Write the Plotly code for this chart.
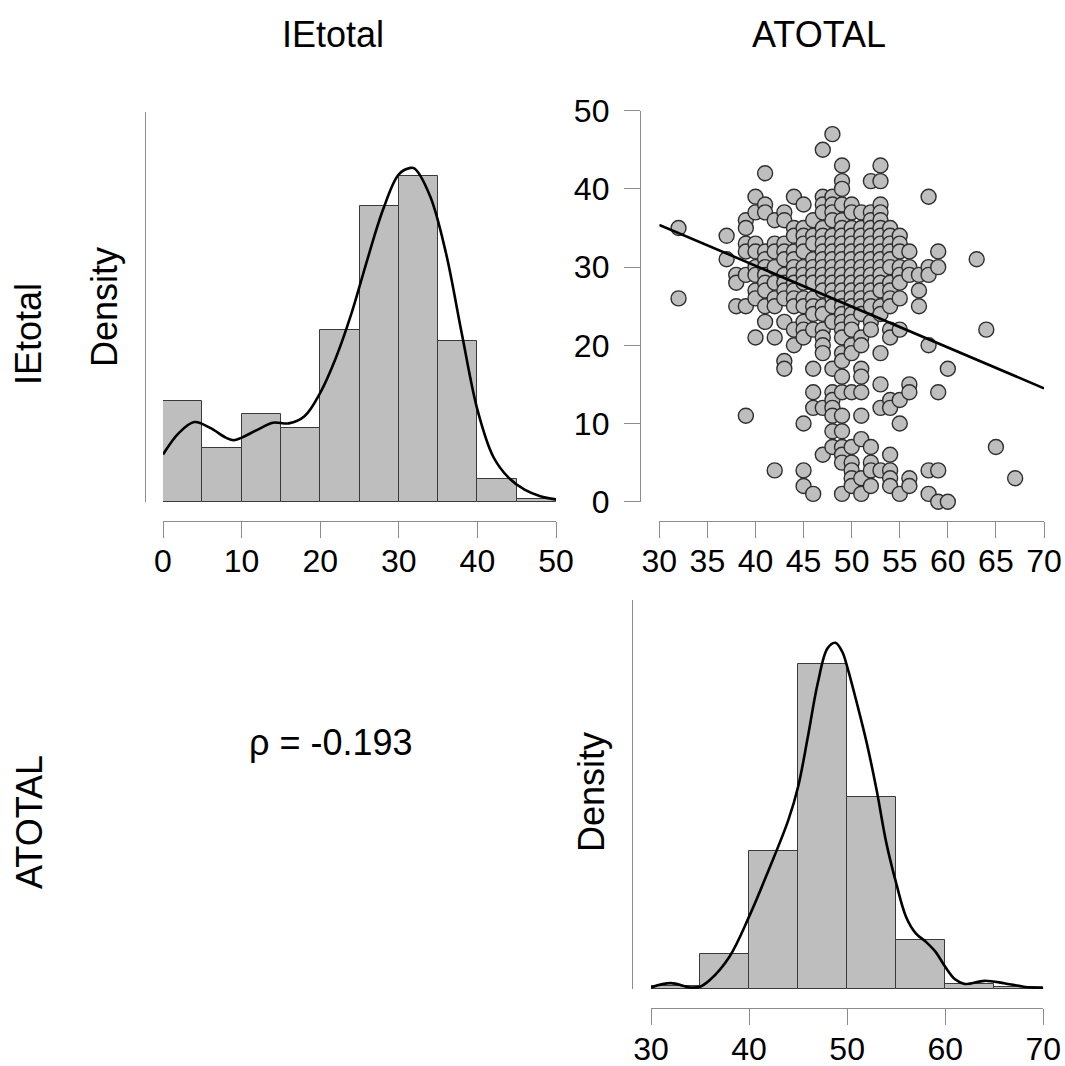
import numpy as np
import plotly.graph_objects as go

W, H = 1065, 1066

# ---------------- data ----------------
# IEtotal histogram (density per 5-point bin) and kernel density curve
ie_bin_edges = [0, 5, 10, 15, 20, 25, 30, 35, 40, 45, 50]
ie_density = [0.0155, 0.0083, 0.0135, 0.0114, 0.0264, 0.0455, 0.0501, 0.0248, 0.0036, 0.0005]
ie_kde_x = [0, 2, 4, 6, 8, 9, 10, 12, 14, 16, 18, 20, 22, 24, 26, 28, 30, 31.5, 32, 34, 36, 38, 40, 42, 44, 46, 48, 50]
ie_kde_y = [0.0073, 0.0106, 0.0123, 0.0114, 0.0099, 0.0095, 0.0099, 0.0111, 0.0122, 0.0121, 0.0132,
            0.0168, 0.0222, 0.0291, 0.0373, 0.0450, 0.0504, 0.0514, 0.0513, 0.0470, 0.0383, 0.0260,
            0.0142, 0.0070, 0.0037, 0.0019, 0.0009, 0.0004]

# ATOTAL histogram and kernel density curve
at_bin_edges = [30, 35, 40, 45, 50, 55, 60, 65, 70]
at_density = [0.0009, 0.0090, 0.0355, 0.0835, 0.0494, 0.0125, 0.0014, 0.0005]
at_kde_x = [30, 32, 34, 35, 36, 38, 40, 42, 44, 45, 46, 47, 48, 48.8, 49.5, 50, 51, 52, 53, 54, 55,
            56, 57, 58, 59, 60, 61, 62, 64, 66, 68, 70]
at_kde_y = [0.0004, 0.0015, 0.0004, 0.0006, 0.0023, 0.0083, 0.0186, 0.0306, 0.0434, 0.0520, 0.0649,
            0.0786, 0.0876, 0.0890, 0.0867, 0.0829, 0.0734, 0.0632, 0.0512, 0.0375, 0.0272, 0.0186,
            0.0143, 0.0122, 0.0096, 0.0057, 0.0025, 0.0013, 0.0021, 0.0015, 0.0006, 0.0002]

# Scatter: ATOTAL column values and the IEtotal values observed in each column
scatter_atotal_cols = [32, 37, 38, 39, 40, 41, 42, 43, 44, 45, 46, 47, 48, 49, 50, 51, 52, 53, 54, 55,
                       56, 57, 58, 59, 60, 63, 64, 65, 67]
scatter_ietotal_by_col = [
    [35, 26],
    [34, 31],
    [29, 28, 25],
    [36, 35, 33, 32, 29, 25, 11],
    [39, 37, 33, 32, 30, 29, 27, 26, 21],
    [42, 38, 37, 32, 31, 30, 29, 28, 27, 25, 23],
    [36, 33, 32, 30, 28, 26, 25, 21, 4],
    [37, 36, 33, 32, 31, 29, 28, 27, 26, 23, 18, 17],
    [39, 35, 34, 32, 31, 30, 29, 28, 27, 26, 25, 22, 20],
    [38, 35, 34, 33, 32, 30, 29, 28, 26, 25, 23, 22, 21, 10, 4, 2],
    [36, 34, 33, 31, 30, 29, 28, 26, 25, 24, 22, 17, 14, 12, 1],
    [45, 39, 38, 37, 35, 34, 33, 32, 31, 30, 29, 28, 27, 25, 24, 22, 21, 20, 19, 12, 6],
    [47, 39, 38, 37, 36, 34, 33, 32, 31, 30, 29, 28, 27, 26, 25, 23, 17, 14, 13, 12, 11, 9, 7],
    [43, 41, 40, 38, 36, 35, 34, 33, 32, 31, 30, 29, 28, 27, 26, 25, 24, 23, 22, 21, 19, 18, 16,
     14, 11, 9, 7, 6, 5, 1],
    [38, 37, 35, 34, 33, 32, 31, 30, 29, 28, 27, 26, 25, 24, 23, 22, 20, 19, 14, 7, 5, 4, 3, 2],
    [37, 35, 34, 33, 32, 31, 30, 29, 28, 27, 26, 25, 24, 21, 20, 17, 16, 14, 11, 8, 3, 1],
    [41, 37, 36, 35, 34, 33, 32, 31, 30, 29, 28, 27, 26, 25, 23, 22, 7, 5, 4, 2],
    [43, 41, 38, 37, 36, 35, 34, 33, 32, 31, 30, 29, 28, 27, 25, 24, 19, 15, 12, 4],
    [35, 34, 33, 32, 31, 30, 28, 27, 26, 25, 22, 21, 13, 12, 6, 4, 3, 2],
    [34, 33, 32, 30, 29, 28, 26, 22, 13, 10, 1],
    [32, 30, 29, 15, 14, 3, 2],
    [29, 27, 25],
    [39, 30, 29, 20, 4, 1],
    [32, 30, 14, 4, 0],
    [17, 0],
    [31],
    [22],
    [7],
    [3],
]

# Fitted regression line (read at the ends of the ATOTAL range)
reg_x = [30, 70]
reg_y = [35.4, 14.5]

var_names = ["IEtotal", "ATOTAL"]
rho_label = "ρ = -0.193"

# ---------------- figure ----------------
FONT = "Liberation Sans, Arial, sans-serif"
GRAY_FILL = "#bebebe"
EDGE = "#3a3a3a"
AXIS = "#8c8c8c"
TICK_SIZE = 32
TITLE_SIZE = 36

def pxx(p):
    return p / W

def pxy(p):
    return 1 - p / H

sx, sy = [], []
for col, vals in zip(scatter_atotal_cols, scatter_ietotal_by_col):
    for v in vals:
        sx.append(col)
        sy.append(v)

ie_edges = np.array(ie_bin_edges, dtype=float)
at_edges = np.array(at_bin_edges, dtype=float)

fig = go.Figure()

# IEtotal histogram
fig.add_trace(go.Bar(
    x=(ie_edges[:-1] + ie_edges[1:]) / 2, y=ie_density, width=np.diff(ie_edges),
    marker=dict(color=GRAY_FILL, line=dict(color=EDGE, width=1)),
    xaxis="x", yaxis="y", showlegend=False))
fig.add_trace(go.Scatter(
    x=ie_kde_x, y=ie_kde_y, mode="lines", line=dict(color="black", width=2.6, shape="spline"),
    xaxis="x", yaxis="y", showlegend=False, cliponaxis=False))

# Scatter
fig.add_trace(go.Scatter(
    x=sx, y=sy, mode="markers",
    marker=dict(size=15, color=GRAY_FILL, line=dict(color="#2e2e2e", width=1.4)),
    xaxis="x2", yaxis="y2", showlegend=False, cliponaxis=False))
fig.add_trace(go.Scatter(
    x=reg_x, y=reg_y, mode="lines", line=dict(color="black", width=2.6),
    xaxis="x2", yaxis="y2", showlegend=False, cliponaxis=False))

# ATOTAL histogram
fig.add_trace(go.Bar(
    x=(at_edges[:-1] + at_edges[1:]) / 2, y=at_density, width=np.diff(at_edges),
    marker=dict(color=GRAY_FILL, line=dict(color=EDGE, width=1)),
    xaxis="x3", yaxis="y3", showlegend=False))
fig.add_trace(go.Scatter(
    x=at_kde_x, y=at_kde_y, mode="lines", line=dict(color="black", width=2.6, shape="spline"),
    xaxis="x3", yaxis="y3", showlegend=False, cliponaxis=False))

tickfont = dict(family=FONT, size=TICK_SIZE, color="black")

def xax(d0, d1, rng, ypos, tvals):
    return dict(domain=[pxx(d0), pxx(d1)], range=rng, anchor="free", position=pxy(ypos),
                showline=True, linecolor=AXIS, linewidth=1.3, ticks="outside", ticklen=16,
                tickcolor=AXIS, tickwidth=1.3, tickvals=tvals, tickfont=tickfont,
                showgrid=False, zeroline=False, automargin=False, fixedrange=True,
                ticklabelstandoff=-4)

def yax(d_bottom, d_top, rng, xpos, tvals=None):
    d = dict(domain=[pxy(d_bottom), pxy(d_top)], range=rng, anchor="free", position=pxx(xpos),
             showline=True, linecolor=AXIS, linewidth=1.3, showgrid=False, zeroline=False,
             automargin=False, fixedrange=True)
    if tvals is None:
        d.update(ticks="", showticklabels=False)
    else:
        d.update(ticks="outside", ticklen=16, tickcolor=AXIS, tickwidth=1.3, tickvals=tvals,
                 tickfont=tickfont, ticklabelstandoff=8)
    return d

fig.update_layout(
    width=W, height=H, margin=dict(l=0, r=0, t=0, b=0),
    paper_bgcolor="white", plot_bgcolor="rgba(0,0,0,0)",
    bargap=0, showlegend=False,
    xaxis=xax(163, 556, [0, 50], 520.7, [0, 10, 20, 30, 40, 50]),
    yaxis=yax(502, 112, [0, 0.06], 145),
    xaxis2=xax(659.3, 1044, [30, 70], 520.7, list(range(30, 71, 5))),
    yaxis2=yax(501.7, 110.7, [0, 50], 640, [0, 10, 20, 30, 40, 50]),
    xaxis3=xax(651, 1043.3, [30, 70], 1008.3, [30, 40, 50, 60, 70]),
    yaxis3=yax(989, 600, [0, 0.10], 632),
)

def label(text, x, y, size=TITLE_SIZE, angle=0):
    fig.add_annotation(text=text, x=pxx(x), y=pxy(y), xref="paper", yref="paper",
                       showarrow=False, xanchor="center", yanchor="middle", textangle=angle,
                       font=dict(family=FONT, size=size, color="black"))

label(var_names[0], 333, 34)
label(var_names[1], 819, 34)
label(var_names[0], 29, 334, angle=-90)
label(var_names[1], 29, 822, angle=-90)
label("Density", 104, 307, angle=-90)
label("Density", 591, 792, angle=-90)
label(rho_label, 331, 742)

fig.write_html("out.html")
